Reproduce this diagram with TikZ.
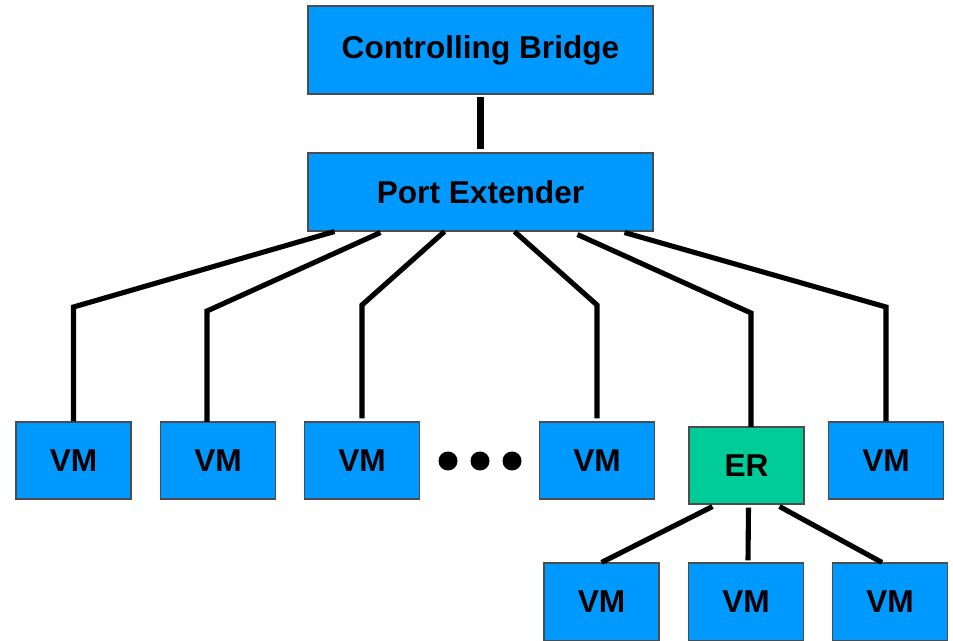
\documentclass[tikz,border=0pt]{standalone}
\usepackage{fontspec}
\setmainfont{Liberation Sans}
\usetikzlibrary{calc}
\definecolor{boxblue}{HTML}{0099FF}
\definecolor{boxgreen}{HTML}{00CC99}
\tikzset{
    box/.style={draw=black!70,line width=0.6pt,fill=boxblue,minimum width=115*0.02cm,
        minimum height=77*0.02cm,inner sep=0pt,font=\fontsize{18}{20}\selectfont\bfseries},
    bigbox/.style={box,minimum width=345*0.02cm},
    link/.style={line width=2.9pt},
}
\begin{document}
\begin{tikzpicture}[x=0.02cm,y=-0.02cm]
        \useasboundingbox (0,0) rectangle (953,641);

        \node[bigbox,minimum height=88*0.02cm] (cb) at (480.5,50) {Controlling Bridge};
        \node[bigbox,minimum height=78*0.02cm] (pe) at (480.5,192) {Port Extender};

        \node[box] (vm1) at (73.5,460.5) {VM};
        \node[box] (vm2) at (218,460.5) {VM};
        \node[box] (vm3) at (362,460.5) {VM};
        \node[box] (vm4) at (597,460.5) {VM};
        \node[box,fill=boxgreen] (er) at (746.5,465.5) {ER};
        \node[box] (vm6) at (886,460.5) {VM};

        \node[box,minimum height=78*0.02cm] (vm7) at (601.5,602) {VM};
        \node[box,minimum height=78*0.02cm] (vm8) at (746,602) {VM};
        \node[box,minimum height=78*0.02cm] (vm9) at (890,602) {VM};

        \foreach \x in {448,480,512}
            \fill (\x,461) circle[radius=9.5];

        \draw[line width=4pt] ($(cb.south)+(0,2)$) -- ($(pe.north)+(0,-3)$);

        \draw[link] ($(pe.south)+(-146,0)$) -- (73.5,307) -- (vm1.north);
        \draw[link] ($(pe.south)+(-100,1)$) -- (207,311) -- (207,422);
        \draw[link] ($(pe.south)+(-36,0)$) -- (362,305) -- ($(vm3.north)+(0,-3)$);
        \draw[link] ($(pe.south)+(34,0)$) -- (597,305) -- ($(vm4.north)+(0,-3)$);
        \draw[link] ($(pe.south)+(97,3)$) -- (751,313) -- (751,427);
        \draw[link] ($(pe.south)+(144,1)$) -- (886,307) -- (vm6.north);

        \draw[link] ($(er.south)+(-34,2)$) -- (vm7.north);
        \draw[link] ($(er.south)+(2,3)$) -- ($(vm8.north)+(2,-2)$);
        \draw[link] ($(er.south)+(33,2)$) -- ($(vm9.north)+(-8,0)$);
    \end{tikzpicture}
\end{document}
